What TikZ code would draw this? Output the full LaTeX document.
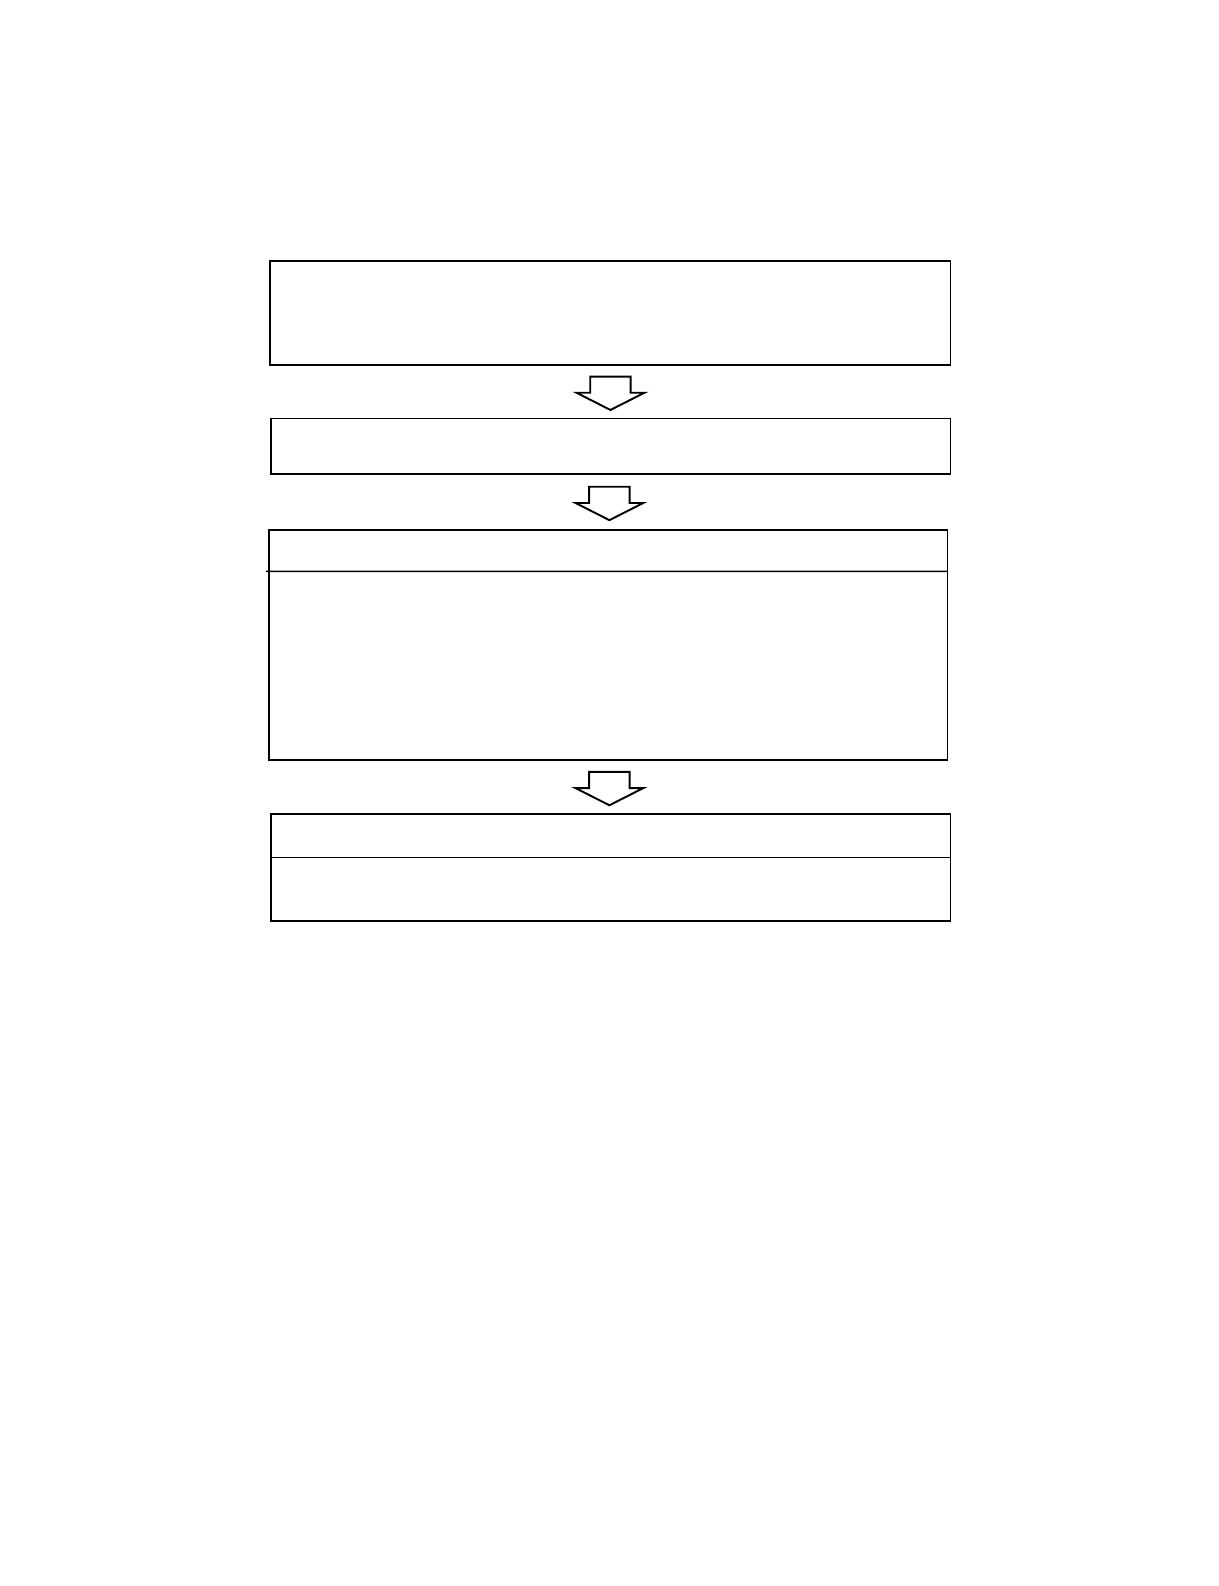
\documentclass[tikz,border=0pt]{standalone}
\usetikzlibrary{calc}

\begin{document}
\begin{tikzpicture}[x=0.02cm,y=-0.02cm,line width=0.85pt,
  stepbox/.style={draw,rectangle,inner sep=0pt,outer sep=0pt}]

% Page frame
\useasboundingbox (0,0) rectangle (1218,1586);

% Boxes
\node[stepbox,minimum width=13.61cm,minimum height=2.08cm] (box1) at (610.2,312.9) {};
\node[stepbox,minimum width=13.59cm,minimum height=1.11cm] (box2) at (610.7,446.4) {};
\node[stepbox,minimum width=13.57cm,minimum height=4.61cm] (box3) at (608.1,645) {};
\node[stepbox,minimum width=13.59cm,minimum height=2.14cm] (box4) at (610.7,867.4) {};

% Dividers
\draw ([shift={(-3,41.5)}]box3.north west) -- ([yshift=-0.83cm]box3.north east);
\draw ([yshift=-0.87cm]box4.north west) -- ([yshift=-0.87cm]box4.north east);

% Block arrows
\foreach \a/\b in {box1/box2,box2/box3,box3/box4}{
  \coordinate (m) at ($(\a.south)!0.5!(\b.north)+(0,1.5)$);
  \draw[line width=1.1pt,line join=miter]
    (m) ++(-20.2,-16.7) -- ++(40.4,0) -- ++(0,16.2) -- ++(13.7,0)
    -- ++(-33.9,17.2) -- ++(-33.9,-17.2) -- ++(13.7,0) -- cycle;
}

\end{tikzpicture}
\end{document}
